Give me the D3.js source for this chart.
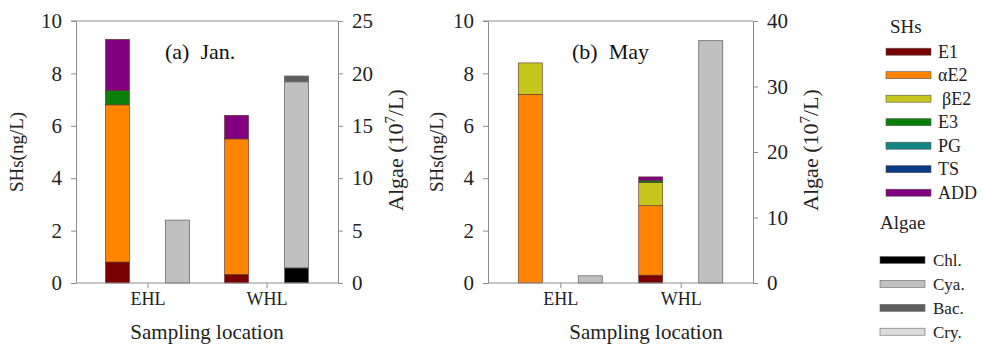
<!DOCTYPE html>
<html>
<head>
<meta charset="utf-8">
<script src="https://cdn.jsdelivr.net/npm/d3@7"></script>
<style>
  body { margin: 0; background: #fff; }
  svg text { font-family: "Liberation Serif", "Times New Roman", serif !important; }
  .axis path, .axis line { stroke: #8c8c8c; }
  .axis text { fill: #222; }
</style>
</head>
<body>
<svg id="chart" width="983" height="346"></svg>
<script>
const categories = ['EHL', 'WHL'];
const shKeys = ['E1', 'αE2', 'βE2', 'E3', 'PG', 'TS', 'ADD'];
const algaeKeys = ['Chl.', 'Cya.', 'Bac.', 'Cry.'];

// SHs (ng/L), per location, in shKeys order
const janSH = [[0.8, 6.0, 0, 0.55, 0, 0, 1.95], [0.33, 5.17, 0, 0, 0, 0, 0.9]];
const maySH = [[0, 7.2, 1.2, 0, 0, 0, 0], [0.3, 2.65, 0.88, 0.08, 0, 0, 0.14]];
// Algae (10^7/L), per location, in algaeKeys order
const janAlgae = [[0, 6.0, 0, 0], [1.45, 17.75, 0.55, 0]];
const mayAlgae = [[0, 1.1, 0, 0], [0, 37, 0, 0]];

const shTicks = [0, 2, 4, 6, 8, 10];
const janAlgaeTicks = [0, 5, 10, 15, 20, 25];
const mayAlgaeTicks = [0, 10, 20, 30, 40];

const shColors = ['#7a0000', '#ff8400', '#c6c61c', '#0a800a', '#138585', '#0a3a85', '#800080'];
const algaeColors = ['#000000', '#c0c0c0', '#5e5e5e', '#dcdcdc'];

const serif = 'Liberation Serif, Times New Roman, serif';
const svg = d3.select('#chart');

const panels = [
  {title: '(a)  Jan.', sh: janSH, algae: janAlgae, algaeTicks: janAlgaeTicks, algaeMax: 25,
   left: 76, right: 338, leftTitleX: 17, rightTitleX: 395, xTitleX: 207, titleX: 165},
  {title: '(b)  May', sh: maySH, algae: mayAlgae, algaeTicks: mayAlgaeTicks, algaeMax: 40,
   left: 488, right: 753, leftTitleX: 437, rightTitleX: 810, xTitleX: 646, titleX: 572}
];

const plotTop = 21, plotBottom = 283;

for (const p of panels) drawPanel(p);
drawLegend();

function stackRows(rows, keys) {
  const table = rows.map((r, i) => {
    const o = {cat: categories[i]};
    keys.forEach((k, j) => o[k] = r[j]);
    return o;
  });
  return d3.stack().keys(keys)(table);
}

function drawPanel(p) {
  const g = svg.append('g');

  const x = d3.scalePoint().domain(categories).range([p.left, p.right]).padding(0.6);
  const sub = d3.scaleBand().domain(['sh', 'algae']).range([-42, 42])
    .paddingInner(0.6).paddingOuter(0);
  const y = d3.scaleLinear().domain([0, 10]).range([plotBottom, plotTop]);
  const y2 = d3.scaleLinear().domain([0, p.algaeMax]).range([plotBottom, plotTop]);

  // frame top
  g.append('line')
    .attr('x1', p.left - 5).attr('x2', p.right)
    .attr('y1', plotTop).attr('y2', plotTop)
    .attr('stroke', '#8c8c8c');

  // SHs stacks
  const shStack = stackRows(p.sh, shKeys);
  shStack.forEach((layer, li) => {
    g.selectAll(null)
      .data(layer.filter(d => d[1] - d[0] > 0))
      .enter().append('rect')
        .attr('x', d => x(d.data.cat) + sub('sh'))
        .attr('width', sub.bandwidth())
        .attr('y', d => y(d[1]))
        .attr('height', d => y(d[0]) - y(d[1]))
        .attr('fill', shColors[li])
        .attr('stroke', '#5a3030')
        .attr('stroke-width', 0.6);
  });

  // Algae stacks
  const algaeStack = stackRows(p.algae, algaeKeys);
  algaeStack.forEach((layer, li) => {
    g.selectAll(null)
      .data(layer.filter(d => d[1] - d[0] > 0))
      .enter().append('rect')
        .attr('x', d => x(d.data.cat) + sub('algae'))
        .attr('width', sub.bandwidth())
        .attr('y', d => y2(d[1]))
        .attr('height', d => y2(d[0]) - y2(d[1]))
        .attr('fill', algaeColors[li])
        .attr('stroke', '#6a6a6a')
        .attr('stroke-width', 0.8);
  });

  // axes
  g.append('g')
    .attr('class', 'axis')
    .attr('transform', `translate(${p.left},0)`)
    .call(d3.axisLeft(y).tickValues(shTicks).tickSize(5).tickPadding(9).tickSizeOuter(0))
    .attr('font-family', serif)
    .call(a => a.selectAll('text').attr('font-size', 21));

  g.append('g')
    .attr('class', 'axis')
    .attr('transform', `translate(${p.right},0)`)
    .call(d3.axisRight(y2).tickValues(p.algaeTicks).tickSize(5).tickPadding(9).tickSizeOuter(0))
    .attr('font-family', serif)
    .call(a => a.selectAll('text').attr('font-size', 21));

  g.append('g')
    .attr('class', 'axis')
    .attr('transform', `translate(0,${plotBottom})`)
    .call(d3.axisBottom(x).tickSize(5).tickPadding(4).tickSizeOuter(0))
    .attr('font-family', serif)
    .call(a => a.select('.domain').attr('d', `M${p.left},0H${p.right}`))
    .call(a => a.selectAll('text').attr('font-size', 18));

  // titles
  g.append('text')
    .attr('transform', `translate(${p.leftTitleX + 6},152) rotate(-90)`)
    .attr('text-anchor', 'middle')
    .attr('font-family', serif)
    .attr('font-size', 19)
    .attr('fill', '#222')
    .text('SHs(ng/L)');

  const at = g.append('text')
    .attr('transform', `translate(${p.rightTitleX + 8},150) rotate(-90)`)
    .attr('text-anchor', 'middle')
    .attr('font-family', serif)
    .attr('font-size', 22)
    .attr('fill', '#222');
  at.append('tspan').text('Algae (10');
  at.append('tspan').attr('dy', -8).attr('font-size', 15).text('7');
  at.append('tspan').attr('dy', 8).text('/L)');

  g.append('text')
    .attr('x', p.xTitleX)
    .attr('y', 339)
    .attr('text-anchor', 'middle')
    .attr('font-family', serif)
    .attr('font-size', 21)
    .attr('fill', '#222')
    .text('Sampling location');

  g.append('text')
    .attr('x', p.titleX)
    .attr('y', 59)
    .attr('font-family', serif)
    .attr('font-size', 22)
    .attr('fill', '#111')
    .style('white-space', 'pre')
    .text(p.title);
}

function drawLegend() {
  const lg = svg.append('g').attr('font-family', serif);
  const shY = d3.scalePoint().domain(shKeys).range([51.7, 192.7]);
  const alY = d3.scalePoint().domain(algaeKeys).range([260, 331.7]);

  lg.append('text').attr('x', 890).attr('y', 33).attr('font-size', 19).attr('fill', '#222').text('SHs');
  shKeys.forEach((k, i) => {
    lg.append('rect')
      .attr('x', 886).attr('y', shY(k) - 3.5)
      .attr('width', 45).attr('height', 7)
      .attr('fill', shColors[i]).attr('stroke', '#555').attr('stroke-width', 0.6);
    lg.append('text')
      .attr('x', k === 'βE2' ? 942 : 938).attr('y', shY(k) + 6)
      .attr('font-size', 18).attr('fill', '#222')
      .text(k);
  });

  lg.append('text').attr('x', 880).attr('y', 229).attr('font-size', 19).attr('fill', '#222').text('Algae');
  algaeKeys.forEach((k, i) => {
    lg.append('rect')
      .attr('x', 880).attr('y', alY(k) - 3.5)
      .attr('width', 45).attr('height', 7)
      .attr('fill', algaeColors[i]).attr('stroke', '#666').attr('stroke-width', 0.6);
    lg.append('text')
      .attr('x', 933).attr('y', alY(k) + 6)
      .attr('font-size', 17).attr('fill', '#222')
      .text(k);
  });
}
</script>
</body>
</html>
